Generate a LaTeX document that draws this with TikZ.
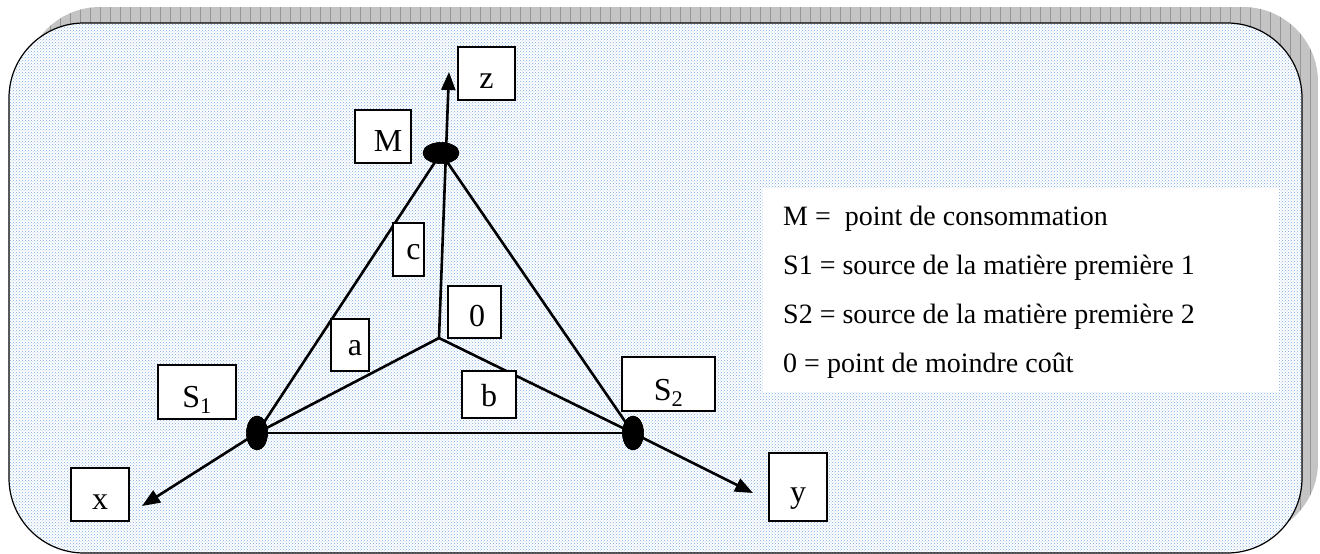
\documentclass[tikz,border=0pt]{standalone}
\usepackage{fontspec}
\setmainfont{Liberation Serif}
\usetikzlibrary{shapes.geometric,arrows.meta,patterns}
\definecolor{dotblue}{RGB}{125,170,228}
\definecolor{shadowgray}{RGB}{196,196,196}
\definecolor{gridgray}{RGB}{150,150,150}
\tikzset{
  lbl/.style={draw=black, fill=white, line width=2.5pt, inner sep=0pt,
    font=\fontsize{32}{36}\selectfont, text height=34pt, text depth=4pt},
  pt/.style={ellipse, fill=black, draw=black, inner sep=0pt},
  edge/.style={line width=2.6pt, draw=black},
  axis/.style={edge, -{Triangle[length=18pt,width=14pt]}},
  legtext/.style={anchor=base west, inner sep=0pt, font=\fontsize{28}{32}\selectfont}
}
\begin{document}
\begin{tikzpicture}[x=1pt,y=-1pt]
\useasboundingbox (0,0) rectangle (1320,554);
% shadow
\begin{scope}
  \clip[rounded corners=75pt] (25,7) rectangle (1318,537);
  \fill[shadowgray] (25,7) rectangle (1318,537);
  \draw[gridgray, line width=0.8pt, step=10] (20,0) grid (1320,540);
\end{scope}
% main panel
\fill[white, rounded corners=75pt] (9,23) rectangle (1302,553);
\fill[pattern=crosshatch dots, pattern color=dotblue, rounded corners=75pt] (9,23) rectangle (1302,553);
\draw[line width=1.2pt, rounded corners=75pt] (9,23) rectangle (1302,553);
% legend
\node[fill=white, inner sep=0pt, minimum width=516pt, minimum height=204pt, anchor=north west] (legend) at (763,188) {};
\node[legtext] (l1) at (783,225) {M = \ point de consommation};
\node[legtext] (l2) at (783,274) {S1 = source de la matière première 1};
\node[legtext] (l3) at (783,323) {S2 = source de la matière première 2};
\node[legtext] (l4) at (783,372) {0 = point de moindre coût};
% points
\coordinate (O) at (439,338);
\coordinate (ztip) at (449,72);
\coordinate (xtip) at (142,506);
\coordinate (ytip) at (753,493);
\node[pt, minimum width=36pt, minimum height=21pt] (M) at (441,153) {};
\node[pt, minimum width=21pt, minimum height=34pt] (S1) at (257,433) {};
\node[pt, minimum width=21pt, minimum height=34pt] (S2) at (633,433) {};
% edges
\draw[edge] (M.center) -- (S1.center);
\draw[edge] (M.center) -- (S2.center);
\draw[edge] (O) -- (S1.center);
\draw[edge] (O) -- (S2.center);
\draw[edge] (S1.center) -- (S2.center);
\draw[axis] (O) -- (ztip);
\draw[axis] (S1.center) -- (xtip);
\draw[axis] (S2.center) -- (ytip);
% redraw points on top
\node[pt, minimum width=36pt, minimum height=21pt] at (M) {};
\node[pt, minimum width=21pt, minimum height=34pt] at (S1) {};
\node[pt, minimum width=21pt, minimum height=34pt] at (S2) {};
% labels
\node[lbl, minimum width=57pt, minimum height=53pt] (zl) at (486.5,73.5) {z};
\node[lbl, minimum width=56pt, minimum height=53pt] (Ml) at (383,136.5) {\hspace*{10pt}M};
\node[lbl, minimum width=31pt, minimum height=53pt, text height=24pt] (cl) at (408.5,249.5) {\hspace*{10pt}c};
\node[lbl, minimum width=53pt, minimum height=52pt, text height=32pt] (Ol) at (474.5,312) {\hspace*{5pt}0};
\node[lbl, minimum width=38pt, minimum height=52pt, text height=24pt] (al) at (350,345) {\hspace*{10pt}a};
\node[lbl, minimum width=54pt, minimum height=47pt, text height=27pt] (bl) at (489,394.5) {b};
\node[lbl, minimum width=78pt, minimum height=54pt] (S1l) at (197,392) {S\textsubscript{1}};
\node[lbl, minimum width=93pt, minimum height=54pt, text height=36pt] (S2l) at (668.5,384) {S\textsubscript{2}};
\node[lbl, minimum width=58pt, minimum height=53pt] (xl) at (100,494.5) {x};
\node[lbl, minimum width=58pt, minimum height=68pt] (yl) at (798,487) {y};
\end{tikzpicture}
\end{document}
